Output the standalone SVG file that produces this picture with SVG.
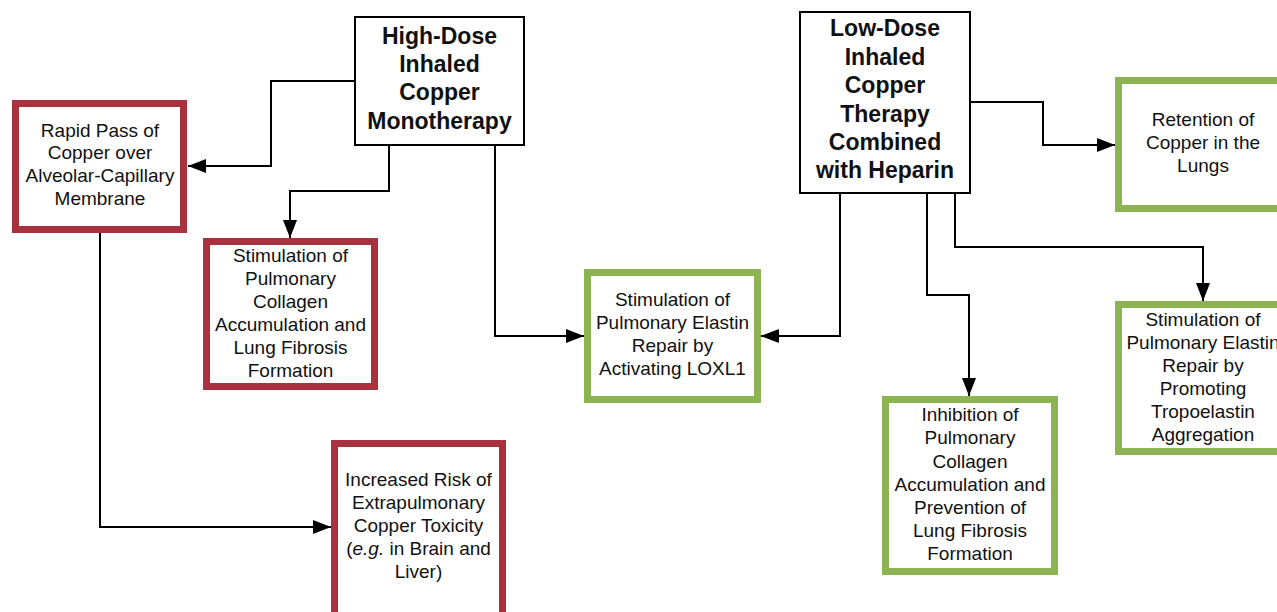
<svg xmlns="http://www.w3.org/2000/svg" width="1277" height="612" viewBox="0 0 1277 612">
<defs>
<marker id="arr" markerWidth="18" markerHeight="14" refX="18" refY="7" orient="auto" markerUnits="userSpaceOnUse">
<path d="M0,0 L18,7 L0,14 z" fill="#000"/>
</marker>
<style>
.main{fill:#fff;stroke:#000;stroke-width:2}
.red{fill:#fff;stroke:#a8323e;stroke-width:7}
.green{fill:#fff;stroke:#8cb453;stroke-width:7}
.t{font-family:"Liberation Sans",Arial,sans-serif;font-size:19px;fill:#111;text-anchor:middle}
.b{font-family:"Liberation Sans",Arial,sans-serif;font-size:23px;font-weight:bold;fill:#111;text-anchor:middle}
.c{fill:none;stroke:#000;stroke-width:2;marker-end:url(#arr)}
</style>
</defs>
<rect width="1277" height="612" fill="#fff"/>
<g id="connectors">
<path class="c" d="M355,81 H271 V166 H188"/>
<path class="c" d="M389,145 V191 H290 V238"/>
<path class="c" d="M495,145 V336 H584"/>
<path class="c" d="M840,193 V336 H761"/>
<path class="c" d="M927,193 V295 H969 V396"/>
<path class="c" d="M955,193 V247 H1203 V301"/>
<path class="c" d="M970,102 H1043 V145 H1115"/>
<path class="c" d="M100,233 V527 H331"/>
</g>
<g id="high-dose">
<rect class="main" x="355" y="17" width="169" height="128"/>
<text class="b" x="439.5" y="44">High-Dose</text>
<text class="b" x="439.5" y="72">Inhaled</text>
<text class="b" x="439.5" y="100">Copper</text>
<text class="b" x="439.5" y="129">Monotherapy</text>
</g>
<g id="low-dose">
<rect class="main" x="800" y="12" width="170" height="181"/>
<text class="b" x="885" y="36">Low-Dose</text>
<text class="b" x="885" y="65">Inhaled</text>
<text class="b" x="885" y="93">Copper</text>
<text class="b" x="885" y="122">Therapy</text>
<text class="b" x="885" y="150">Combined</text>
<text class="b" x="885" y="178">with Heparin</text>
</g>
<g id="rapid-pass">
<rect class="red" x="15.5" y="103.5" width="168" height="126"/>
<text class="t" x="100" y="137">Rapid Pass of</text>
<text class="t" x="100" y="159">Copper over</text>
<text class="t" x="100" y="182">Alveolar-Capillary</text>
<text class="t" x="100" y="205">Membrane</text>
</g>
<g id="collagen-stim">
<rect class="red" x="206.5" y="241.5" width="168" height="145"/>
<text class="t" x="290.5" y="262">Stimulation of</text>
<text class="t" x="290.5" y="285">Pulmonary</text>
<text class="t" x="290.5" y="308">Collagen</text>
<text class="t" x="290.5" y="331">Accumulation and</text>
<text class="t" x="290.5" y="354">Lung Fibrosis</text>
<text class="t" x="290.5" y="377">Formation</text>
</g>
<g id="toxicity">
<rect class="red" x="334.5" y="443.5" width="168" height="175"/>
<text class="t" x="418.5" y="486">Increased Risk of</text>
<text class="t" x="418.5" y="509">Extrapulmonary</text>
<text class="t" x="418.5" y="532">Copper Toxicity</text>
<text class="t" x="418.5" y="555">(<tspan font-style="italic">e.g.</tspan> in Brain and</text>
<text class="t" x="418.5" y="578">Liver)</text>
</g>
<g id="loxl1">
<rect class="green" x="587.5" y="272.5" width="170" height="127"/>
<text class="t" x="672.5" y="306">Stimulation of</text>
<text class="t" x="672.5" y="329">Pulmonary Elastin</text>
<text class="t" x="672.5" y="352">Repair by</text>
<text class="t" x="672.5" y="375">Activating LOXL1</text>
</g>
<g id="retention">
<rect class="green" x="1118.5" y="80.5" width="170" height="128"/>
<text class="t" x="1203" y="126">Retention of</text>
<text class="t" x="1203" y="149">Copper in the</text>
<text class="t" x="1203" y="172">Lungs</text>
</g>
<g id="tropoelastin">
<rect class="green" x="1118.5" y="304.5" width="170" height="147"/>
<text class="t" x="1203" y="326">Stimulation of</text>
<text class="t" x="1203" y="349">Pulmonary Elastin</text>
<text class="t" x="1203" y="372">Repair by</text>
<text class="t" x="1203" y="395">Promoting</text>
<text class="t" x="1203" y="418">Tropoelastin</text>
<text class="t" x="1203" y="441">Aggregation</text>
</g>
<g id="inhibition">
<rect class="green" x="885.5" y="399.5" width="169" height="172"/>
<text class="t" x="970" y="421">Inhibition of</text>
<text class="t" x="970" y="444">Pulmonary</text>
<text class="t" x="970" y="468">Collagen</text>
<text class="t" x="970" y="491">Accumulation and</text>
<text class="t" x="970" y="514">Prevention of</text>
<text class="t" x="970" y="537">Lung Fibrosis</text>
<text class="t" x="970" y="560">Formation</text>
</g>
</svg>
